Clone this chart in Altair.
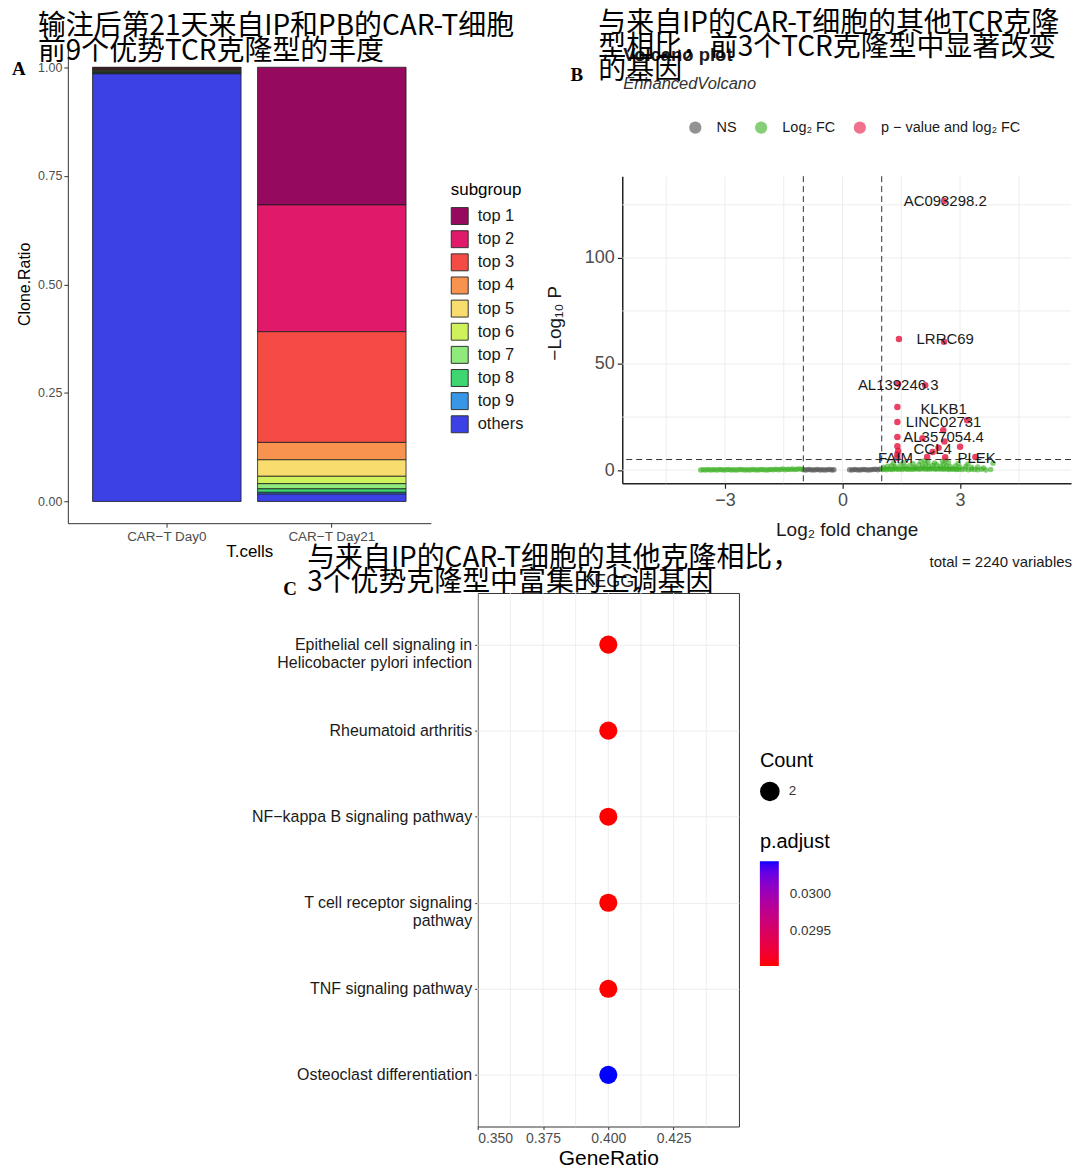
import altair as alt
import pandas as pd

SANS = "Liberation Sans"
CJK = "Noto Sans CJK SC"
SERIF = "Liberation Serif"

# ---------------- Panel A data ----------------
a_title_lines = ["输注后第21天来自IP和PB的CAR-T细胞", "前9个优势TCR克隆型的丰度"]
a_cells = ["CAR−T Day0", "CAR−T Day21"]
a_groups = ["top 1", "top 2", "top 3", "top 4", "top 5", "top 6", "top 7", "top 8", "top 9", "others"]
a_day0 = [0.0017, 0.0017, 0.0017, 0.0017, 0.0017, 0.0017, 0.0017, 0.0017, 0.0017, 0.9847]
a_day21 = [0.317, 0.292, 0.255, 0.040, 0.038, 0.017, 0.012, 0.008, 0.004, 0.017]
a_colors = ["#95095E", "#E0196A", "#F44C45", "#F7934E", "#F8DC6E",
            "#CFF25C", "#8FEA7B", "#3ED670", "#3896E7", "#3C41E5"]

# ---------------- Panel B data ----------------
b_title_lines = ["与来自IP的CAR-T细胞的其他TCR克隆", "型相比，前3个TCR克隆型中显著改变", "的基因"]
b_classes = ["NS", "Log₂ FC", "p − value and log₂ FC"]
b_class_colors = ["#4A4A4A", "#35AE1C", "#E5123E"]

b_ns_x = [-0.99, -0.93, -0.87, -0.81, -0.75, -0.69, -0.63, -0.57, -0.51, -0.45,
          -0.39, -0.33, -0.27, -0.22, 0.18, 0.24, 0.30, 0.36, 0.42, 0.48,
          0.54, 0.60, 0.66, 0.72, 0.78, 0.84, 0.90, 0.96]
b_ns_y = [0.2, 0.1, 0.3, 0.2, 0.1, 0.2, 0.3, 0.1, 0.2, 0.1,
          0.2, 0.3, 0.1, 0.2, 0.2, 0.1, 0.3, 0.2, 0.1, 0.2,
          0.3, 0.2, 0.1, 0.2, 0.3, 0.4, 0.2, 0.5]

b_fc_left_x = [-3.62, -3.56, -3.50, -3.44, -3.38, -3.32, -3.26, -3.20, -3.14, -3.08,
               -3.02, -2.96, -2.90, -2.84, -2.78, -2.72, -2.66, -2.60, -2.54, -2.48,
               -2.42, -2.36, -2.30, -2.24, -2.18, -2.12, -2.06, -2.00, -1.94, -1.88,
               -1.82, -1.76, -1.70, -1.64, -1.58, -1.52, -1.46, -1.40, -1.34, -1.28,
               -1.22, -1.16, -1.10, -1.04]
b_fc_left_y = [0.1, 0.2, 0.1, 0.3, 0.1, 0.2, 0.2, 0.1, 0.3, 0.2,
               0.1, 0.2, 0.3, 0.1, 0.2, 0.1, 0.2, 0.3, 0.2, 0.1,
               0.2, 0.1, 0.3, 0.2, 0.1, 0.2, 0.3, 0.2, 0.1, 0.2,
               0.3, 0.2, 0.4, 0.2, 0.3, 0.5, 0.2, 0.4, 0.3, 0.5,
               0.3, 0.4, 0.6, 0.4]
b_fc_right_x = [1.02, 1.07, 1.12, 1.17, 1.22, 1.27, 1.32, 1.37, 1.42, 1.47,
                1.52, 1.57, 1.62, 1.67, 1.72, 1.77, 1.82, 1.87, 1.92, 1.97,
                2.02, 2.07, 2.12, 2.17, 2.22, 2.27, 2.32, 2.37, 2.42, 2.47,
                2.52, 2.57, 2.62, 2.67, 2.72, 2.77, 2.82, 2.87, 2.92, 2.97,
                3.05, 3.13, 3.21, 3.29, 3.37, 3.45, 3.55, 3.66, 3.78,
                1.05, 1.15, 1.25, 1.35, 1.48, 1.60, 1.72, 1.85, 1.95, 2.05,
                2.12, 2.20, 2.30, 2.40, 2.50, 2.58, 2.65, 2.75, 2.88, 3.00,
                3.15, 3.30, 3.45, 3.60, 3.84,
                1.30, 1.55, 1.80, 2.00, 2.10, 2.18, 2.35, 2.55, 2.62, 2.70,
                2.95, 3.20]
b_fc_right_y = [0.3, 0.5, 0.2, 0.6, 0.4, 0.3, 0.7, 0.5, 0.4, 0.6,
                0.3, 0.8, 0.5, 0.4, 0.6, 0.3, 0.7, 0.5, 0.6, 0.4,
                0.8, 0.5, 0.7, 0.4, 0.6, 0.5, 0.8, 0.4, 0.6, 0.5,
                0.7, 0.4, 0.6, 0.5, 0.3, 0.6, 0.4, 0.5, 0.3, 0.4,
                0.3, 0.5, 0.2, 0.4, 0.3, 0.2, 0.4, 0.1, 0.3,
                1.4, 1.8, 2.1, 1.6, 2.4, 1.9, 2.2, 1.5, 2.6, 2.0,
                2.8, 1.7, 2.3, 2.5, 1.8, 2.7, 2.1, 1.6, 2.0, 1.4,
                1.8, 1.2, 1.5, 1.0, 3.3,
                3.2, 3.5, 3.0, 4.1, 4.6, 3.8, 3.4, 4.2, 4.7, 3.6,
                3.1, 2.9]

b_sig_x = [2.59, 1.44, 2.59, 1.42, 2.11, 1.40, 1.40, 3.18, 1.40, 2.57, 2.04,
           2.60, 3.00, 1.40, 1.42, 2.16, 2.62, 3.39, 1.40, 2.30, 1.40, 2.45]
b_sig_y = [126.8, 61.8, 60.5, 40.7, 40.0, 29.7, 22.7, 23.5, 15.6, 18.8, 15.0,
           13.5, 11.0, 11.3, 9.0, 6.2, 6.1, 6.2, 7.5, 8.5, 5.8, 10.5]

b_lab_text = ["AC093298.2", "LRRC69", "AL139246.3", "KLKB1", "LINC02731",
              "AL357054.4", "CCL4", "FAIM", "PLEK"]
b_lab_x = [2.62, 2.62, 1.42, 2.58, 2.58, 2.58, 2.30, 1.35, 3.42]
b_lab_y = [126.8, 62.0, 40.0, 29.0, 22.5, 15.5, 9.8, 5.6, 5.6]

b_grid_x = [-4.5, -3, -1.5, 0, 1.5, 3, 4.5]
b_grid_y = [0, 25, 50, 75, 100, 125]
b_fc_cut = [-1, 1]
b_p_cut = [5]

# ---------------- Panel C data ----------------
c_title_lines = ["与来自IP的CAR-T细胞的其他克隆相比，", "3个优势克隆型中富集的上调基因"]
c_terms = ["Epithelial cell signaling in|Helicobacter pylori infection",
           "Rheumatoid arthritis",
           "NF−kappa B signaling pathway",
           "T cell receptor signaling|pathway",
           "TNF signaling pathway",
           "Osteoclast differentiation"]
c_gene_ratio = [0.4, 0.4, 0.4, 0.4, 0.4, 0.4]
c_count = [2, 2, 2, 2, 2, 2]
c_padj = [0.02903, 0.02903, 0.02903, 0.02903, 0.02903, 0.03045]
c_grid_x = [0.35, 0.3625, 0.375, 0.3875, 0.4, 0.4125, 0.425, 0.4375]

one = pd.DataFrame({"k": [0]})


def note(text, x, y, font=SANS, size=14, weight="normal", style="normal",
         align="left", baseline="alphabetic", color="#000000", line_height=None):
    kw = dict(text=text, font=font, fontSize=size, fontWeight=weight, fontStyle=style,
              align=align, baseline=baseline, color=color)
    if line_height is not None:
        kw["lineHeight"] = line_height
    return alt.Chart(one).mark_text(**kw).encode(x=alt.value(x), y=alt.value(y))


# ================= Panel A =================
rows = []
for cell, vals in zip(a_cells, [a_day0, a_day21]):
    for i, (g, v) in enumerate(zip(a_groups, vals)):
        rows.append({"cell": cell, "group": g, "value": v, "ord": i})
df_a = pd.DataFrame(rows)

a_bars = alt.Chart(df_a).mark_bar(stroke="#1E1E1E", strokeWidth=0.8).encode(
    x=alt.X("cell:N", sort=a_cells,
            scale=alt.Scale(paddingInner=0.1, paddingOuter=0.15),
            axis=alt.Axis(title="T.cells", labelAngle=0, labelFontSize=13.5,
                          labelColor="#4D4D4D", labelPadding=2, tickSize=4,
                          tickColor="#333333", domainColor="#333333",
                          titleFontSize=17, titleFontWeight="normal",
                          titleColor="#000000", titleY=28, titleBaseline="middle")),
    y=alt.Y("value:Q", stack="zero",
            scale=alt.Scale(domain=[-0.05, 1.05], nice=False, zero=False),
            axis=alt.Axis(title="Clone.Ratio", values=[0, 0.25, 0.5, 0.75, 1.0],
                          format=".2f", labelFontSize=12.5, labelColor="#4D4D4D",
                          labelPadding=2, tickSize=4, tickColor="#333333",
                          domainColor="#333333", grid=False, titleFontSize=16,
                          titleFontWeight="normal", titleColor="#000000",
                          titleX=-43, titleY=239, titleBaseline="middle")),
    color=alt.Color("group:N", sort=a_groups,
                    scale=alt.Scale(domain=a_groups, range=a_colors),
                    legend=alt.Legend(title="subgroup", orient="none", legendX=384,
                                      legendY=137, titleFontSize=17,
                                      titleFontWeight="normal", titleColor="#000000",
                                      titlePadding=8, labelFontSize=16.5,
                                      labelColor="#1A1A1A", labelOffset=9,
                                      symbolType="square", symbolSize=289,
                                      symbolStrokeColor="#333333",
                                      symbolStrokeWidth=1, rowPadding=1.2, padding=0)),
    order=alt.Order("ord:Q", sort="descending"),
)

chart_a = alt.layer(
    a_bars,
    note(a_title_lines, -30, -33, font=CJK, size=28, baseline="top", line_height=25),
    note("A", -56, 30, font=SERIF, size=19, weight="bold"),
).properties(width=364, height=479)

# ================= Panel B =================
df_b_base = pd.DataFrame({
    "x": b_ns_x + b_fc_left_x + b_fc_right_x,
    "y": b_ns_y + b_fc_left_y + b_fc_right_y,
    "cls": [b_classes[0]] * len(b_ns_x) + [b_classes[1]] * (len(b_fc_left_x) + len(b_fc_right_x)),
})
df_b_sig = pd.DataFrame({"x": b_sig_x, "y": b_sig_y, "cls": [b_classes[2]] * len(b_sig_x)})
df_b_lab = pd.DataFrame({"x": b_lab_x, "y": b_lab_y, "label": b_lab_text})

bx_scale = alt.Scale(domain=[-5.62, 5.83], nice=False, zero=False)
by_scale = alt.Scale(domain=[-6.2, 138.5], nice=False, zero=False)
bx_axis = alt.Axis(title="Log₂ fold change", values=[-3, 0, 3], grid=False,
                   labelFontSize=18, labelColor="#4D4D4D", labelPadding=3, tickSize=5,
                   tickColor="#222222", tickWidth=1.2, domainColor="#222222",
                   domainWidth=1.5, titleFontSize=19, titleFontWeight="normal",
                   titleColor="#1A1A1A", titleY=46, titleBaseline="middle")
by_axis = alt.Axis(title="−Log₁₀ P", values=[0, 50, 100], grid=False,
                   labelFontSize=18, labelColor="#4D4D4D", labelPadding=3, tickSize=5,
                   tickColor="#222222", tickWidth=1.2, domainColor="#222222",
                   domainWidth=1.5, titleFontSize=19, titleFontWeight="normal",
                   titleColor="#1A1A1A", titleX=-68, titleY=147,
                   titleBaseline="middle")
b_color = alt.Color("cls:N", scale=alt.Scale(domain=b_classes, range=b_class_colors),
                    legend=alt.Legend(title=None, orient="none", direction="horizontal",
                                      legendX=66, legendY=-56, labelFontSize=14.5,
                                      labelColor="#1A1A1A", labelOffset=14,
                                      columnPadding=17, symbolType="circle",
                                      symbolSize=150, symbolStrokeWidth=0, padding=0))

bgx = alt.Chart(pd.DataFrame({"x": b_grid_x})).mark_rule(color="#EBEBEB", strokeWidth=0.9).encode(
    x=alt.X("x:Q", scale=bx_scale, axis=bx_axis))
bgy = alt.Chart(pd.DataFrame({"y": b_grid_y})).mark_rule(color="#EBEBEB", strokeWidth=0.9).encode(
    y=alt.Y("y:Q", scale=by_scale, axis=by_axis))
b_pts = alt.Chart(df_b_base).mark_circle(size=30, opacity=0.6).encode(
    x=alt.X("x:Q", scale=bx_scale, axis=bx_axis),
    y=alt.Y("y:Q", scale=by_scale, axis=by_axis),
    color=b_color)
b_sig = alt.Chart(df_b_sig).mark_circle(size=42, opacity=0.8).encode(
    x=alt.X("x:Q", scale=bx_scale, axis=bx_axis),
    y=alt.Y("y:Q", scale=by_scale, axis=by_axis),
    color=b_color)
b_vcut = alt.Chart(pd.DataFrame({"x": b_fc_cut})).mark_rule(
    color="#333333", strokeWidth=1, strokeDash=[6, 4]).encode(
    x=alt.X("x:Q", scale=bx_scale, axis=bx_axis))
b_hcut = alt.Chart(pd.DataFrame({"y": b_p_cut})).mark_rule(
    color="#333333", strokeWidth=1, strokeDash=[6, 4]).encode(
    y=alt.Y("y:Q", scale=by_scale, axis=by_axis))
b_labels = alt.Chart(df_b_lab).mark_text(font=SANS, fontSize=15, color="#1A1A1A").encode(
    x=alt.X("x:Q", scale=bx_scale, axis=bx_axis),
    y=alt.Y("y:Q", scale=by_scale, axis=by_axis),
    text="label:N")

chart_b = alt.layer(
    bgx, bgy, b_pts, b_sig, b_vcut, b_hcut, b_labels,
    note("Volcano plot", 1, -115, size=18.5, weight="bold", color="#1A1A1A"),
    note("EnhancedVolcano", 1, -87, size=16.5, style="italic", color="#333333"),
    note(b_title_lines, -24, -167, font=CJK, size=28, baseline="top", line_height=24),
    note("B", -52, -95, font=SERIF, size=19, weight="bold"),
    note("total = 2240 variables", 451, 392, size=15, align="right", color="#1A1A1A"),
).properties(width=450, height=308)

spacer_b = alt.Chart(one).mark_point(opacity=0).encode(
    x=alt.value(0), y=alt.value(0)).properties(width=450, height=131)

# ================= Panel C =================
df_c = pd.DataFrame({"term": c_terms, "ratio": c_gene_ratio,
                     "count": c_count, "padj": c_padj})
cx_scale = alt.Scale(domain=[0.35, 0.45], nice=False, zero=False)
cx_axis = alt.Axis(title="GeneRatio", values=[0.35, 0.375, 0.4, 0.425], format=".3f",
                   grid=False, domain=False, labelFontSize=14, labelColor="#4D4D4D",
                   labelPadding=2, tickSize=3, tickColor="#333333",
                   titleFontSize=21, titleFontWeight="normal", titleColor="#000000",
                   titleY=32, titleBaseline="middle")
cy_axis = alt.Axis(title=None, labelExpr="split(datum.label, '|')", labelFontSize=16,
                   labelColor="#1A1A1A", labelLineHeight=18, labelLimit=0,
                   labelPadding=3, tickSize=3, tickColor="#333333", domain=False,
                   grid=True, gridColor="#EBEBEB", gridWidth=0.9)

cgx = alt.Chart(pd.DataFrame({"ratio": c_grid_x})).mark_rule(
    color="#EBEBEB", strokeWidth=0.9).encode(
    x=alt.X("ratio:Q", scale=cx_scale, axis=cx_axis))
c_pts = alt.Chart(df_c).mark_circle(opacity=1).encode(
    x=alt.X("ratio:Q", scale=cx_scale, axis=cx_axis),
    y=alt.Y("term:N", sort=c_terms, scale=alt.Scale(padding=0.6), axis=cy_axis),
    color=alt.Color("padj:Q",
                    scale=alt.Scale(domain=[min(c_padj), max(c_padj)],
                                    range=["#FF0000", "#0000FF"], interpolate="lab"),
                    legend=alt.Legend(title="p.adjust", orient="none", legendX=283,
                                      legendY=240, direction="vertical",
                                      gradientLength=105, gradientThickness=19,
                                      gradientStrokeWidth=0, values=[0.0295, 0.0300],
                                      format=".4f", titleFontSize=20,
                                      titleFontWeight="normal", titleColor="#000000",
                                      titlePadding=9, labelFontSize=13.5,
                                      labelColor="#333333", labelOffset=11,
                                      padding=0)),
    size=alt.Size("count:Q", scale=alt.Scale(domain=[0, 2], range=[0, 330]),
                  legend=alt.Legend(title="Count", orient="none", legendX=283,
                                    legendY=159, values=[2], format="d",
                                    symbolFillColor="#000000",
                                    symbolStrokeColor="#000000", titleFontSize=20,
                                    titleFontWeight="normal", titleColor="#000000",
                                    titlePadding=10, labelFontSize=13.5,
                                    labelColor="#333333", labelOffset=9, padding=0)),
)

chart_c = alt.layer(
    cgx, c_pts,
    note("KEGG", 131, -6, size=18, align="center", color="#1A1A1A"),
    note(c_title_lines, -171, -48, font=CJK, size=28, baseline="top", line_height=24),
    note("C", -195, 2, font=SERIF, size=19, weight="bold"),
).properties(width=262, height=535, view=alt.ViewBackground(stroke="#333333", strokeWidth=1))

spacer_c = alt.Chart(one).mark_point(opacity=0).encode(
    x=alt.value(0), y=alt.value(0)).properties(width=411, height=20)

# ================= Layout =================
# (with flush bounds a nested concat counts as zero height, so the row gap
#  below includes the 479px height of the first row)
IND = dict(color="independent", size="independent", x="independent", y="independent")
col_b = alt.vconcat(spacer_b, chart_b, spacing=0, bounds="flush").resolve_scale(**IND).resolve_legend(
    color="independent", size="independent")
row1 = alt.hconcat(chart_a, col_b, spacing=192, bounds="flush").resolve_scale(**IND).resolve_legend(
    color="independent", size="independent")
row2 = alt.hconcat(spacer_c, chart_c, spacing=0, bounds="flush").resolve_scale(**IND).resolve_legend(
    color="independent", size="independent")
chart = alt.vconcat(row1, row2, spacing=549, bounds="flush").resolve_scale(**IND).resolve_legend(
    color="independent", size="independent"
).properties(
    padding={"left": 4, "top": 0, "right": 0, "bottom": 0}
).configure(font=SANS).configure_view(stroke=None)

chart.save("out.html", embed_options={"renderer": "svg", "actions": False})
